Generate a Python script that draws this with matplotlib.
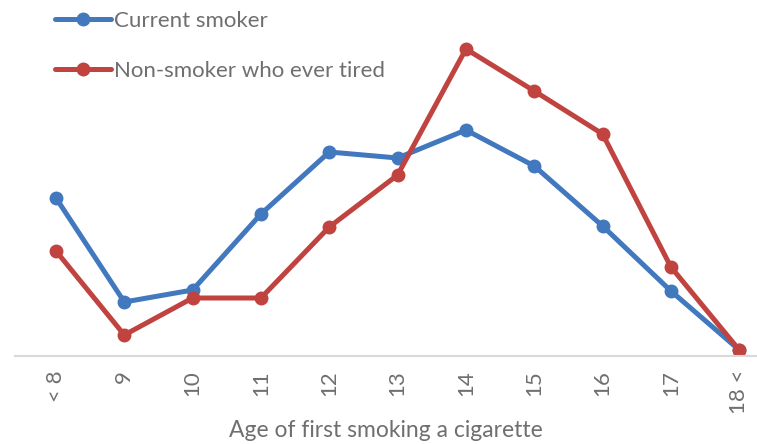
import numpy as np
import matplotlib.pyplot as plt

ages = ["< 8", "9", "10", "11", "12", "13", "14", "15", "16", "17", "18 <"]
current_smoker = [158, 54, 66, 142, 204, 198, 226, 190, 130, 65, 6]
never_smoker_tried = [105, 21, 58, 58, 129, 181, 307, 265, 222, 89, 6]

plt.rcParams["font.family"] = ["Lato", "DejaVu Sans"]
grey = "#6f6f6f"

fig = plt.figure(figsize=(7.57, 4.44), dpi=100)
ax = fig.add_axes([15 / 757, (444 - 356) / 444, 742 / 757, 356 / 444])

x = np.arange(len(ages))
ax.plot(x, current_smoker, color="#4178BE", lw=3.6, marker="o", ms=9,
        label="Current smoker", solid_capstyle="round")
ax.plot(x, never_smoker_tried, color="#C0433F", lw=3.6, marker="o", ms=9,
        label="Non-smoker who ever tired", solid_capstyle="round")

ax.set_xlim(-0.6, 10.26)
ax.set_ylim(0, 356)
ax.set_yticks([])
for s in ["top", "right", "left"]:
    ax.spines[s].set_visible(False)
ax.spines["bottom"].set_color("#d9d9d9")
ax.spines["bottom"].set_linewidth(1.5)
ax.set_xticks(x)
ax.set_xticklabels(ages, rotation=90, fontsize=16, color=grey)
ax.tick_params(axis="x", length=0, pad=10)
ax.set_xlabel("Age of first smoking a cigarette", fontsize=16.5, color=grey, labelpad=4)

leg = ax.legend(loc="upper left", bbox_to_anchor=(0.054, 0.97), frameon=False,
                fontsize=16, handlelength=2.5, labelspacing=1.37, handletextpad=0.15,
                borderpad=0, borderaxespad=0)
for t in leg.get_texts():
    t.set_color(grey)

fig.savefig("out.png", dpi=100)
